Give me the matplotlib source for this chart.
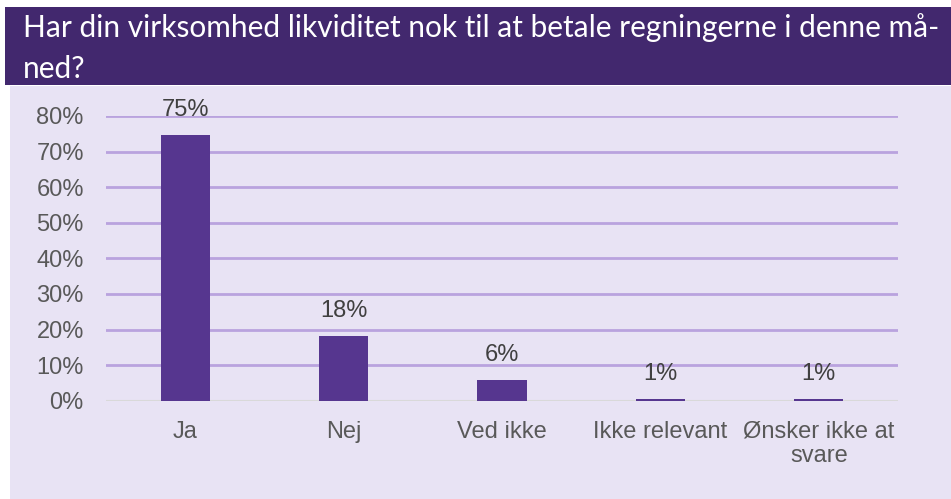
import matplotlib
matplotlib.use("Agg")
import matplotlib.pyplot as plt
from matplotlib.patches import Rectangle

title_lines = ["Har din virksomhed likviditet nok til at betale regningerne i denne må-", "ned?"]
categories = ["Ja", "Nej", "Ved ikke", "Ikke relevant", "Ønsker ikke at\nsvare"]
values = [74.6, 18.2, 5.8, 0.6, 0.6]
yticks = [0, 10, 20, 30, 40, 50, 60, 70, 80]

W, H = 951, 499
fig = plt.figure(figsize=(W / 100, H / 100), dpi=100, facecolor="white")

def fx(px): return px / W
def fy(py): return 1 - py / H

# header band
fig.patches.append(Rectangle((fx(5), fy(85)), fx(951) - fx(5), fy(7) - fy(85),
                             transform=fig.transFigure, facecolor="#42286E", edgecolor="none", zorder=-10))
# light panel
fig.patches.append(Rectangle((fx(10), fy(499)), fx(951) - fx(10), fy(86) - fy(499),
                             transform=fig.transFigure, facecolor="#E8E3F4", edgecolor="none", zorder=-10))

for i, line in enumerate(title_lines):
    fig.text(fx(23), fy(28 + 41 * i), line, color="white", fontsize=21.5, family="Lato",
             va="center", ha="left")

ax = fig.add_axes([fx(106), fy(400.7), fx(898) - fx(106), fy(116) - fy(400.7)])
ax.set_zorder(5)
ax.set_facecolor("none")
x = range(len(categories))
bars = ax.bar(x, values, width=0.31, color="#56368F", zorder=3)
ax.set_ylim(0, 80)
ax.set_xlim(-0.5, len(categories) - 0.5)
ax.set_yticks(yticks)
ax.set_yticklabels([f"{t}%" for t in yticks])
ax.set_xticks(list(x))
ax.set_xticklabels(categories)
for s in ax.spines.values():
    s.set_visible(False)
ax.grid(axis="y", color="#B9A3DE", linewidth=2, zorder=1)
ax.axhline(0, color="#D9D9D9", linewidth=1.5, zorder=2)
ax.tick_params(axis="both", length=0, labelsize=17, labelcolor="#595959")
ax.tick_params(axis="y", pad=16)
ax.tick_params(axis="x", pad=14.5)
for lbl in ax.get_xticklabels() + ax.get_yticklabels():
    lbl.set_family("Liberation Sans")
    lbl.set_linespacing(1.1)
for b, v in zip(bars, values):
    ax.annotate(f"{v:.0f}%", (b.get_x() + b.get_width() / 2, v), xytext=(0, 10),
                textcoords="offset points", ha="center", va="bottom",
                fontsize=17, color="#404040", family="Liberation Sans",
                annotation_clip=False, zorder=4)

fig.savefig("out.png", dpi=100, facecolor="white")
